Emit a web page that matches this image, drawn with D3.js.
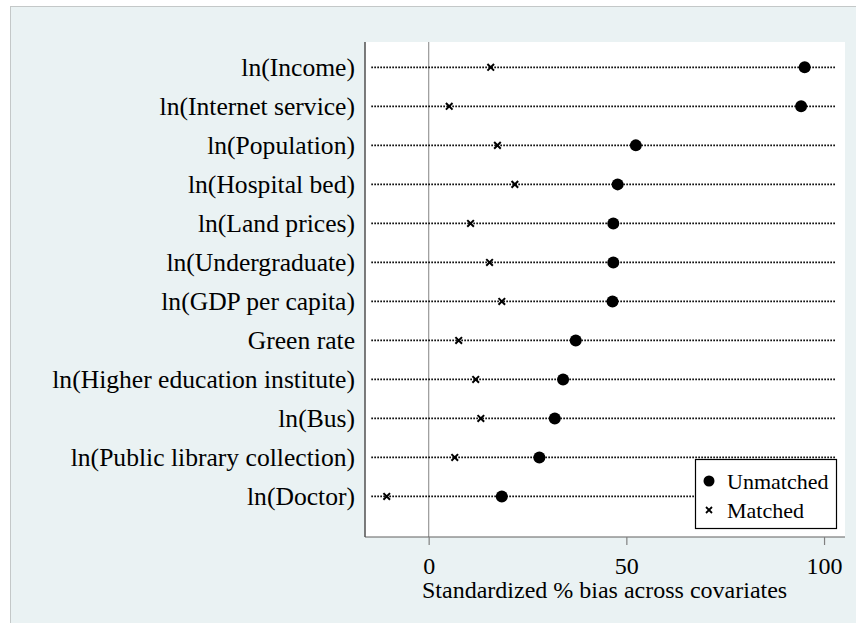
<!DOCTYPE html>
<html>
<head>
<meta charset="utf-8">
<script src="https://cdn.jsdelivr.net/npm/d3@7"></script>
<style>
  html, body { margin: 0; padding: 0; background: #ffffff; }
  svg { display: block; }
  svg text { font-family: "Liberation Serif", "Tinos", "Times New Roman", "Nimbus Roman", "DejaVu Serif", serif; fill: #000; }
</style>
</head>
<body>
<svg id="chart" width="856" height="623"></svg>
<script>
// Covariates, top to bottom
const covariates = [
  "ln(Income)",
  "ln(Internet service)",
  "ln(Population)",
  "ln(Hospital bed)",
  "ln(Land prices)",
  "ln(Undergraduate)",
  "ln(GDP per capita)",
  "Green rate",
  "ln(Higher education institute)",
  "ln(Bus)",
  "ln(Public library collection)",
  "ln(Doctor)"
];

// Standardized % bias before matching
const unmatched = [95.1, 94.2, 52.4, 47.8, 46.7, 46.7, 46.5, 37.2, 34.0, 31.9, 28.0, 18.5];

// Standardized % bias after matching
const matched = [15.7, 5.2, 17.4, 21.8, 10.6, 15.4, 18.5, 7.6, 11.9, 13.2, 6.6, -10.6];

const xTicks = [0, 50, 100];
const xTitle = "Standardized % bias across covariates";
const legendLabels = ["Unmatched", "Matched"];

const serif = "'Liberation Serif', 'Tinos', 'Times New Roman', 'Nimbus Roman', 'DejaVu Serif', serif";

const svg = d3.select("#chart");
const W = 856, H = 623;

// graph region
svg.append("rect").attr("x", 0).attr("y", 0).attr("width", W).attr("height", H).attr("fill", "#ffffff");
svg.append("rect")
  .attr("x", 10.5).attr("y", 6.5).attr("width", W).attr("height", H)
  .attr("fill", "#eaf2f3").attr("stroke", "#c4c8c8").attr("stroke-width", 1);

const plot = { left: 365, right: 845, top: 42, bottom: 537 };

// plot region
svg.append("rect")
  .attr("x", plot.left).attr("y", plot.top)
  .attr("width", plot.right - plot.left).attr("height", plot.bottom - plot.top)
  .attr("fill", "#ffffff");

const x = d3.scaleLinear().domain([-16.1, 105.3]).range([plot.left, plot.right]);
const y = d3.scaleLinear().domain([-0.65, 12.04]).range([plot.top, plot.bottom]);

// zero reference line
svg.append("line")
  .attr("x1", x(0)).attr("x2", x(0))
  .attr("y1", plot.top).attr("y2", plot.bottom)
  .attr("stroke", "#a0a0a0").attr("stroke-width", 1.3);

// dotted row guides
svg.append("g").selectAll("line").data(covariates).join("line")
  .attr("x1", x(-14.5)).attr("x2", x(102.8))
  .attr("y1", (d, i) => y(i)).attr("y2", (d, i) => y(i))
  .attr("stroke", "#000").attr("stroke-width", 1.8)
  .attr("stroke-dasharray", "1.6 1.4");

// x axis
const xAxis = svg.append("g")
  .attr("transform", `translate(0,${plot.bottom})`)
  .call(d3.axisBottom(x).tickValues(xTicks).tickSize(8).tickPadding(12).tickFormat(d3.format("d")));
xAxis.attr("font-family", serif);
xAxis.select(".domain").attr("stroke", "#606060").attr("stroke-width", 1.2)
  .attr("d", `M${plot.left},0H${plot.right}`);
xAxis.selectAll(".tick line").attr("stroke", "#808080").attr("stroke-width", 1.2);
xAxis.selectAll(".tick text")
  .attr("font-size", 24).attr("fill", "#000");

svg.append("text")
  .attr("x", x(44.5)).attr("y", 598)
  .attr("text-anchor", "middle").attr("font-size", 24)
  .text(xTitle);

// y axis
const yAxis = svg.append("g")
  .attr("transform", `translate(${plot.left},0)`)
  .call(d3.axisLeft(y).tickValues(d3.range(covariates.length)).tickSize(0).tickPadding(10)
    .tickFormat(i => covariates[i]));
yAxis.attr("font-family", serif);
yAxis.select(".domain").attr("stroke", "#505050").attr("stroke-width", 1.5)
  .attr("d", `M0,${plot.top}V${plot.bottom}`);
yAxis.selectAll(".tick text")
  .attr("font-size", 25.6).attr("fill", "#000");

// markers
const cross = (s) => `M${-s},${-s}L${s},${s}M${-s},${s}L${s},${-s}`;

svg.append("g").selectAll("path").data(matched).join("path")
  .attr("transform", (d, i) => `translate(${x(d)},${y(i)})`)
  .attr("d", cross(3.3))
  .attr("stroke", "#000").attr("stroke-width", 2).attr("fill", "none");

svg.append("g").selectAll("circle").data(unmatched).join("circle")
  .attr("cx", d => x(d)).attr("cy", (d, i) => y(i))
  .attr("r", 6).attr("fill", "#000");

// legend
const lg = svg.append("g");
lg.append("rect")
  .attr("x", 695.5).attr("y", 459.5).attr("width", 141).attr("height", 69)
  .attr("fill", "#ffffff").attr("stroke", "#000").attr("stroke-width", 1.2);
lg.append("circle").attr("cx", 709).attr("cy", 481).attr("r", 5.5).attr("fill", "#000");
lg.append("path").attr("transform", "translate(709,510)").attr("d", cross(3))
  .attr("stroke", "#000").attr("stroke-width", 1.8).attr("fill", "none");
lg.selectAll("text").data(legendLabels).join("text")
  .attr("x", 727).attr("y", (d, i) => 481 + i * 29)
  .attr("dy", "0.35em").attr("font-size", 22)
  .text(d => d);
</script>
</body>
</html>
